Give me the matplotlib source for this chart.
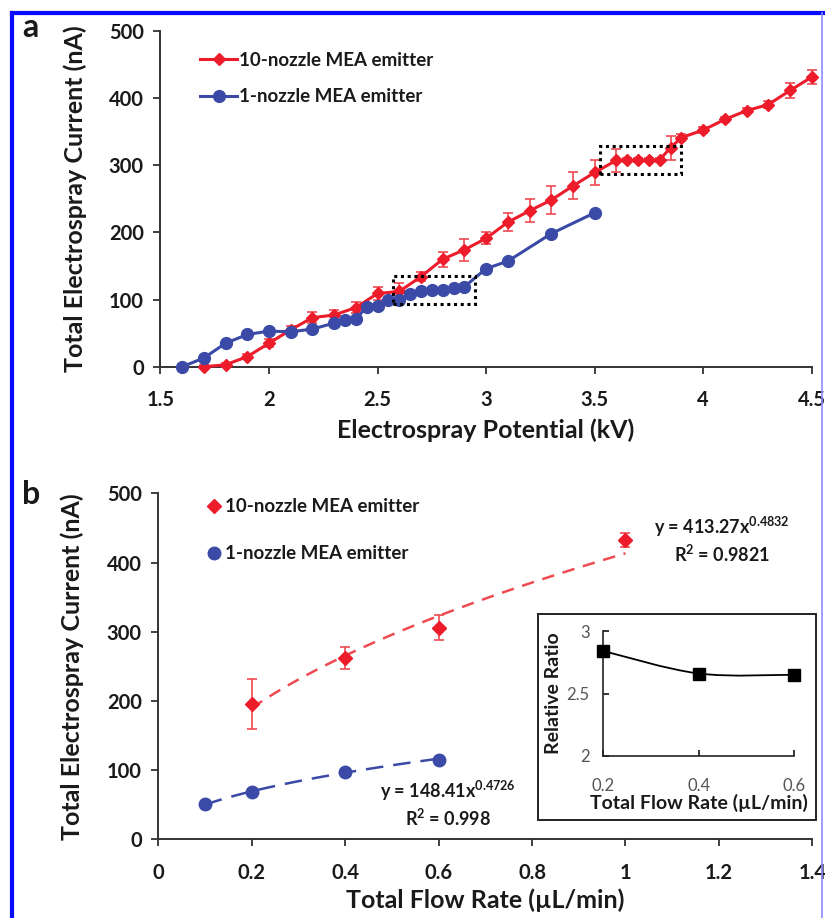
import numpy as np
import matplotlib
matplotlib.use("Agg")
import matplotlib.pyplot as plt
from matplotlib.lines import Line2D
from matplotlib.patches import Rectangle, PathPatch
from matplotlib.path import Path

plt.rcParams['font.family'] = ['Lato', 'DejaVu Sans']
plt.rcParams['font.weight'] = 'bold'
plt.rcParams['mathtext.fontset'] = 'custom'
plt.rcParams['mathtext.rm'] = 'Lato'
plt.rcParams['mathtext.bf'] = 'Lato:bold'

# ---- panel a: current vs potential
v_ten = [1.7, 1.8, 1.9, 2.0, 2.1, 2.2, 2.3, 2.4, 2.5, 2.6, 2.7, 2.8, 2.9, 3.0,
         3.1, 3.2, 3.3, 3.4, 3.5, 3.6, 3.65, 3.7, 3.75, 3.8, 3.85, 3.9, 4.0,
         4.1, 4.2, 4.3, 4.4, 4.5]
i_ten = [0, 3, 15, 35, 55, 73, 77, 88, 109, 112, 134, 160, 174, 191,
         215, 232, 248, 269, 289, 307, 307, 307, 307, 308, 326, 341, 352,
         368, 381, 390, 411, 431]
err_ten = [2, 3, 4, 6, 6, 8, 8, 8, 9, 12, 7, 11, 16, 9,
           13, 17, 21, 20, 19, 17, 3, 3, 3, 3, 18, 5, 4,
           4, 4, 5, 11, 10]

v_one = [1.6, 1.7, 1.8, 1.9, 2.0, 2.1, 2.2, 2.3, 2.35, 2.4, 2.45, 2.5, 2.55,
         2.6, 2.65, 2.7, 2.75, 2.8, 2.85, 2.9, 3.0, 3.1, 3.3, 3.5]
i_one = [0, 13, 35, 48, 53, 52, 56, 65, 70, 71, 89, 90, 100,
         100, 108, 113, 114, 114, 117, 119, 146, 157, 198, 229]

# dotted highlight boxes (x0, x1, y0, y1)
box_one = (2.57, 2.95, 93, 135)
box_ten = (3.525, 3.9, 287, 328)

# ---- panel b: current vs flow rate
q_ten = [0.2, 0.4, 0.6, 1.0]
c_ten = [195, 262, 306, 432]
e_ten = [36, 16, 18, 10]
q_one = [0.1, 0.2, 0.4, 0.6]
c_one = [50.6, 68.8, 97.7, 114.6]
fit_ten = (413.27, 0.4832)
fit_one = (148.41, 0.4726)

# ---- inset: relative ratio
q_ratio = [0.2, 0.4, 0.6]
ratio = [2.84, 2.66, 2.65]

red = '#ec1c2b'
red_light = '#ee4a52'
blue = '#3a4aa6'
dark = '#333333'
txt = '#1a1a1a'

fig = plt.figure(figsize=(8.25, 9.18), dpi=100)


def style_axes(ax):
    for s in ['top', 'right']:
        ax.spines[s].set_visible(False)
    for s in ['left', 'bottom']:
        ax.spines[s].set_color(dark)
        ax.spines[s].set_linewidth(1.4)
    ax.tick_params(direction='out', length=5, width=1.3, color=dark,
                   labelsize=14.5, labelcolor=txt)
    ax.tick_params(axis='x', pad=12)
    ax.tick_params(axis='y', pad=7)
    for lab in ax.get_xticklabels() + ax.get_yticklabels():
        lab.set_fontweight('bold')


# panel a
ax1 = fig.add_axes([0.1945, 0.6005, 0.7894, 0.3661])
ax1.errorbar(v_ten, i_ten, yerr=err_ten, color=red, ecolor=red_light, lw=2.2,
             marker='D', ms=6, elinewidth=1.2, capsize=3.5, capthick=1.2,
             clip_on=False, zorder=3)
ax1.plot(v_one, i_one, color=blue, lw=2.2, marker='o', ms=8.5,
         clip_on=False, zorder=4)
for x0, x1, y0, y1 in [box_one, box_ten]:
    ax1.add_patch(Rectangle((x0, y0), x1 - x0, y1 - y0, fill=False,
                            ls=(0, (1, 1.2)), lw=2.2, ec='black', zorder=5))
ax1.set_xlim(1.5, 4.5)
ax1.set_ylim(0, 500)
ax1.set_xticks([1.5, 2, 2.5, 3, 3.5, 4, 4.5])
ax1.set_xticklabels(['1.5', '2', '2.5', '3', '3.5', '4', '4.5'])
ax1.set_yticks([0, 100, 200, 300, 400, 500])
style_axes(ax1)
ax1.set_xlabel('Electrospray Potential (kV)', fontsize=18, fontweight='bold',
               labelpad=6, color=txt)
ax1.set_ylabel('Total Electrospray Current (nA)', fontsize=18,
               fontweight='bold', labelpad=16, color=txt)
h_a = [Line2D([], [], color=red, lw=2.2, marker='D', ms=6),
       Line2D([], [], color=blue, lw=2.2, marker='o', ms=8.5)]
ax1.legend(h_a, ['10-nozzle MEA emitter', '1-nozzle MEA emitter'],
           loc='upper left', bbox_to_anchor=(0.049, 0.96), frameon=False,
           fontsize=13.5, handlelength=2.0, handletextpad=0.1,
           labelspacing=1.05, borderaxespad=0, labelcolor=txt)

# panel b
ax2 = fig.add_axes([0.1919, 0.0857, 0.7927, 0.3769])
a, b = fit_ten
qf = np.linspace(q_ten[0], q_ten[-1], 50)
ax2.plot(qf, a * qf ** b, color=red_light, lw=1.8, ls=(0, (5, 3.5)), zorder=2)
a, b = fit_one
qf = np.linspace(q_one[0], q_one[-1], 50)
ax2.plot(qf, a * qf ** b, color=blue, lw=1.8, ls=(0, (7, 4)), zorder=2)
ax2.errorbar(q_ten, c_ten, yerr=e_ten, color=red, ecolor=red_light, ls='none',
             marker='D', ms=7, elinewidth=1.2, capsize=3.5, capthick=1.2,
             zorder=3)
ax2.plot(q_one, c_one, color=blue, ls='none', marker='o', ms=9, zorder=3)
ax2.set_xlim(0, 1.4)
ax2.set_ylim(0, 500)
ax2.set_xticks([0, 0.2, 0.4, 0.6, 0.8, 1, 1.2, 1.4])
ax2.set_xticklabels(['0', '0.2', '0.4', '0.6', '0.8', '1', '1.2', '1.4'])
ax2.set_yticks([0, 100, 200, 300, 400, 500])
style_axes(ax2)
ax2.set_xlabel('Total Flow Rate (µL/min)', fontsize=18, fontweight='bold',
               labelpad=4, color=txt)
ax2.set_ylabel('Total Electrospray Current (nA)', fontsize=18,
               fontweight='bold', labelpad=16, color=txt)
h_b = [Line2D([], [], color=red, ls='none', marker='D', ms=7),
       Line2D([], [], color=blue, ls='none', marker='o', ms=9)]
ax2.legend(h_b, ['10-nozzle MEA emitter', '1-nozzle MEA emitter'],
           loc='upper left', bbox_to_anchor=(0.065, 1.008), frameon=False,
           fontsize=13.5, handlelength=0.6, handletextpad=0.3,
           labelspacing=1.6, borderaxespad=0, labelcolor=txt)
ax2.text(1.207, 452, r'y = 413.27x$^{\mathrm{0.4832}}$', fontsize=13,
         ha='center', va='center', color=txt)
ax2.text(1.207, 412, r'R$^{\mathbf{2}}$ = 0.9821', fontsize=13, ha='center',
         va='center', color=txt)
ax2.text(0.62, 70, r'y = 148.41x$^{\mathrm{0.4726}}$', fontsize=13,
         ha='center', va='center', color=txt)
ax2.text(0.62, 30, r'R$^{\mathbf{2}}$ = 0.998', fontsize=13, ha='center',
         va='center', color=txt)

# inset
fig.patches.append(Rectangle((0.6518, 0.1068), 0.3369, 0.2240,
                             transform=fig.transFigure, fc='white',
                             ec='#222222', lw=1.4, zorder=5))
ax3 = fig.add_axes([0.7313, 0.1765, 0.2315, 0.1361], zorder=6)
ax3.patch.set_alpha(0)
# smooth line through the ratio points (Catmull-Rom style bezier)
pts = np.column_stack([q_ratio, ratio])
verts = [pts[0]]
codes = [Path.MOVETO]
for k in range(len(pts) - 1):
    p0 = pts[max(k - 1, 0)]
    p1 = pts[k]
    p2 = pts[k + 1]
    p3 = pts[min(k + 2, len(pts) - 1)]
    verts += [p1 + (p2 - p0) / 6, p2 - (p3 - p1) / 6, p2]
    codes += [Path.CURVE4] * 3
ax3.add_patch(PathPatch(Path(verts, codes), fill=False, ec='black', lw=1.3))
ax3.plot(q_ratio, ratio, ls='none', marker='s', ms=9, color='black',
         clip_on=False, zorder=3)
ax3.set_xlim(0.2, 0.6)
ax3.set_ylim(2, 3)
ax3.set_xticks([0.2, 0.4, 0.6])
ax3.set_xticklabels(['0.2', '0.4', '0.6'])
ax3.set_yticks([2, 2.5, 3])
ax3.set_yticklabels(['2', '2.5', '3'])
for s in ['top', 'right']:
    ax3.spines[s].set_visible(False)
for s in ['left', 'bottom']:
    ax3.spines[s].set_color('#222222')
    ax3.spines[s].set_linewidth(1.2)
ax3.tick_params(direction='in', length=4, width=1.1, labelsize=12,
                labelcolor='#555555')
ax3.tick_params(axis='x', pad=16)
ax3.tick_params(axis='y', pad=10)
for lab in ax3.get_xticklabels() + ax3.get_yticklabels():
    lab.set_fontweight('normal')
ax3.set_xlabel('Total Flow Rate (µL/min)', fontsize=14, fontweight='bold',
               labelpad=0, color=txt)
ax3.set_ylabel('Relative Ratio', fontsize=14, fontweight='bold', labelpad=3,
               color=txt)

# panel letters
fig.text(0.027, 0.970, 'a', fontsize=23, fontweight='bold', va='center',
         color=txt)
fig.text(0.027, 0.461, 'b', fontsize=23, fontweight='bold', va='center',
         color=txt)

# blue frame
fig.lines.append(Line2D([0.0145, 1.0], [0.9853, 0.9853], color='#0a0aff',
                        lw=3, transform=fig.transFigure))
fig.lines.append(Line2D([0.0145, 0.0145], [0.0, 0.9853], color='#0a0aff',
                        lw=3, transform=fig.transFigure))
fig.lines.append(Line2D([0.9964, 0.9964], [0.0, 0.9853], color='#8c8cff',
                        lw=1.2, transform=fig.transFigure))

fig.savefig('out.png', dpi=100)
